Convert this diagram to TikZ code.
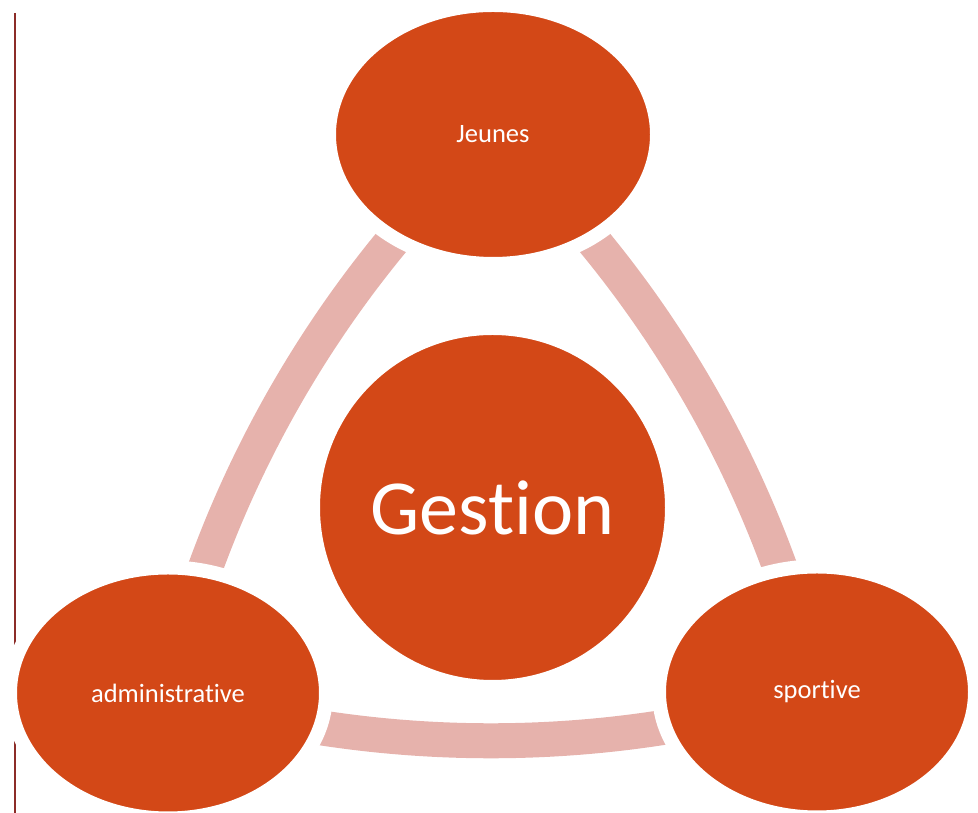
\documentclass[tikz,border=0pt]{standalone}
\usepackage{fontspec}
\setmainfont{Carlito}[Ligatures={NoCommon,NoContextual}]
\usetikzlibrary{shapes.geometric,backgrounds}

\definecolor{rust}{RGB}{211,72,23}
\definecolor{blush}{RGB}{230,178,172}
\definecolor{marginred}{RGB}{140,44,40}

\tikzset{
  petal/.style={ellipse, fill=rust, draw=white, line width=14pt, text=white,
    minimum width=316pt, minimum height=251pt, font=\fontsize{26.5}{30}\selectfont},
  hub/.style={circle, fill=rust, draw=white, line width=14pt, text=white,
    minimum size=359pt, inner sep=0pt, font=\fontsize{78}{90}\selectfont},
  band/.style={blush, line width=35pt, bend right=17, looseness=0.87}
}

\begin{document}
\begin{tikzpicture}[x=1pt,y=1pt]
\useasboundingbox (0,0) rectangle (978,813);

\node[hub] (gestion) at (492.5,305.5) {Gestion};
\node[petal, minimum width=328pt, minimum height=259pt] (jeunes) at (493,678.5) {Jeunes};
\node[petal] (admin) at (168,120) {administrative};
\node[petal] (sport) at (817,121) {sportive};

\begin{scope}[on background layer]
  % left margin rule
  \draw[marginred, line width=2pt] (15,800) -- (15,0);
  % cycle bands
  \draw[band] (jeunes.center) to (admin.center);
  \draw[band] (admin.center) to (sport.center);
  \draw[band] (sport.center) to (jeunes.center);
\end{scope}
\end{tikzpicture}
\end{document}
